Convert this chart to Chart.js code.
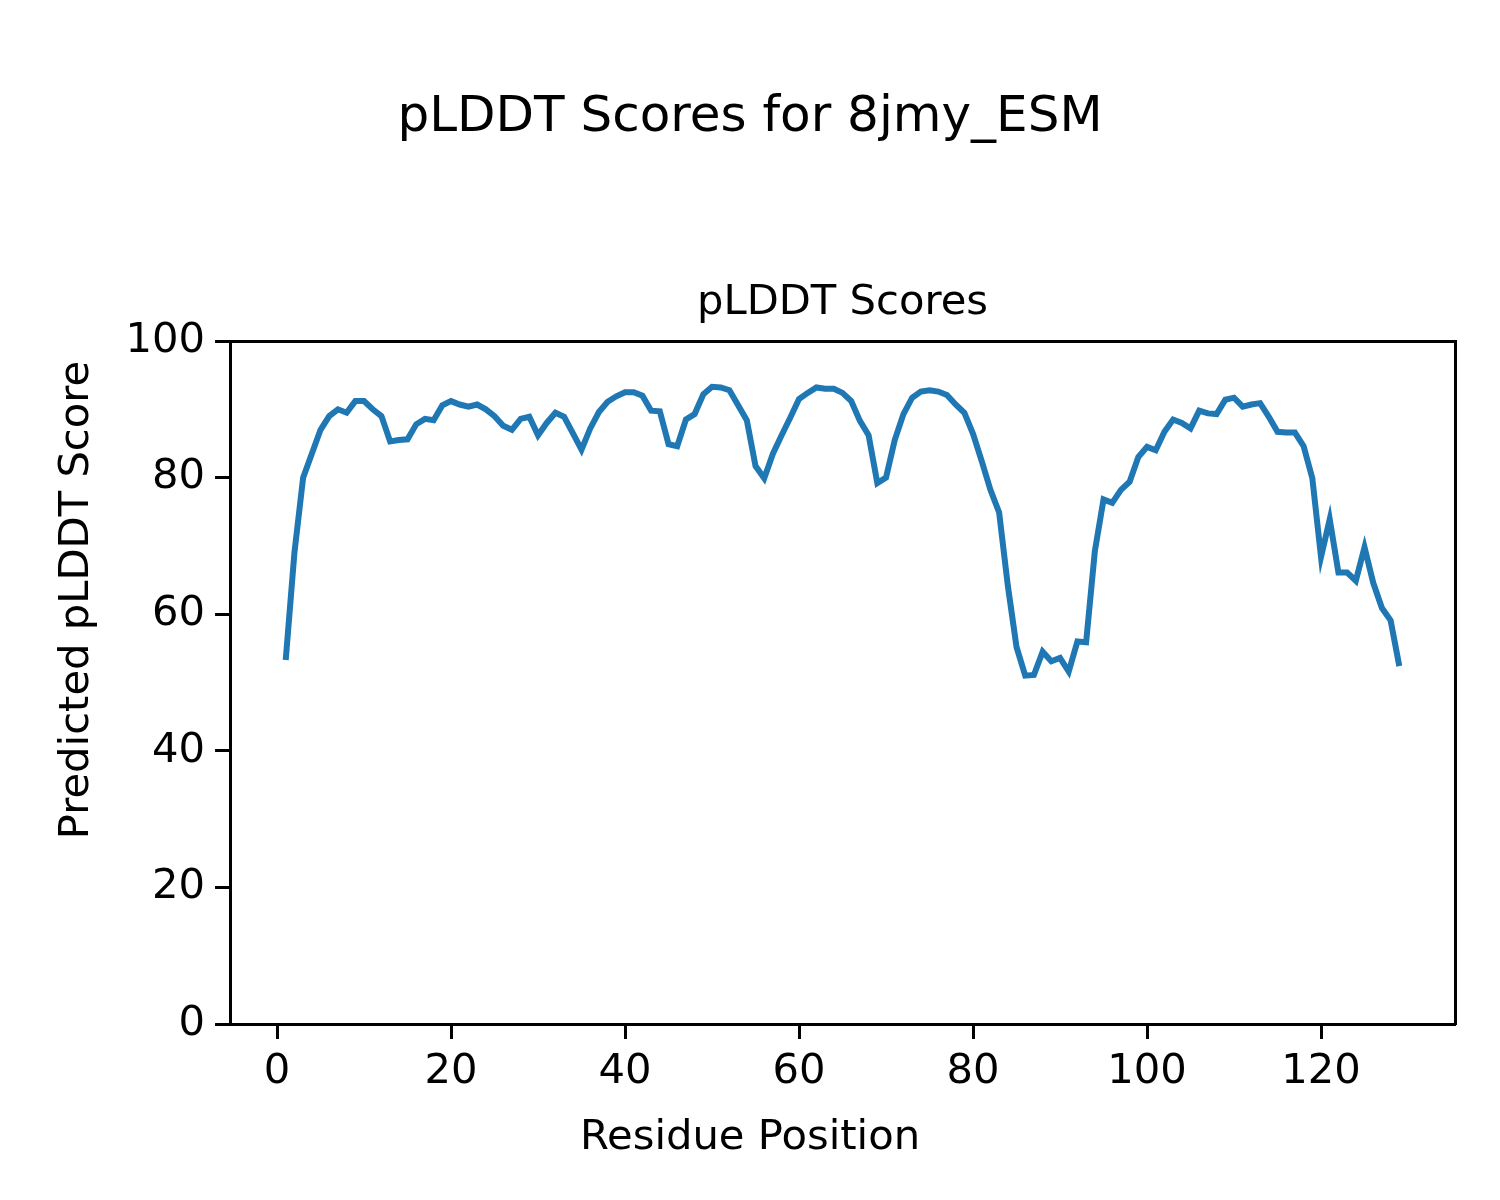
<!DOCTYPE html>
<html>
<head>
<meta charset="utf-8">
<script src="https://cdn.jsdelivr.net/npm/chart.js@4"></script>
<style>
  html, body { margin: 0; padding: 0; background: #fff; }
  canvas { display: block; }
</style>
</head>
<body>
<canvas id="chart" width="1500" height="1200"></canvas>
<script>
// residue positions 1..129 and the predicted scores
const residues = [
  1, 2, 3, 4, 5, 6, 7, 8, 9, 10, 11, 12, 13, 14, 15, 16, 17, 18, 19, 20,
  21, 22, 23, 24, 25, 26, 27, 28, 29, 30, 31, 32, 33, 34, 35, 36, 37, 38, 39, 40,
  41, 42, 43, 44, 45, 46, 47, 48, 49, 50, 51, 52, 53, 54, 55, 56, 57, 58, 59, 60,
  61, 62, 63, 64, 65, 66, 67, 68, 69, 70, 71, 72, 73, 74, 75, 76, 77, 78, 79, 80,
  81, 82, 83, 84, 85, 86, 87, 88, 89, 90, 91, 92, 93, 94, 95, 96, 97, 98, 99, 100,
  101, 102, 103, 104, 105, 106, 107, 108, 109, 110, 111, 112, 113, 114, 115, 116, 117, 118, 119, 120,
  121, 122, 123, 124, 125, 126, 127, 128, 129
]
const plddt = [
  53.3, 69.0, 80.0, 83.5, 87.0, 89.0, 90.0, 89.5, 91.2, 91.2,
  90.0, 89.0, 85.3, 85.5, 85.6, 87.8, 88.6, 88.4, 90.6, 91.2,
  90.7, 90.4, 90.7, 90.0, 89.0, 87.6, 87.0, 88.6, 88.9, 86.2,
  88.0, 89.5, 88.9, 86.5, 84.1, 87.2, 89.6, 91.1, 91.9, 92.5,
  92.5, 92.0, 89.8, 89.7, 84.9, 84.6, 88.5, 89.3, 92.2, 93.3,
  93.2, 92.8, 90.6, 88.4, 81.7, 79.9, 83.5, 86.2, 88.8, 91.5,
  92.4, 93.2, 93.0, 93.0, 92.4, 91.2, 88.3, 86.2, 79.2, 80.0,
  85.5, 89.3, 91.7, 92.6, 92.8, 92.6, 92.1, 90.7, 89.5, 86.4,
  82.4, 78.2, 74.9, 64.2, 55.2, 51.0, 51.1, 54.5, 53.1, 53.6,
  51.6, 56.0, 55.9, 69.2, 76.8, 76.3, 78.2, 79.4, 83.0, 84.5,
  84.0, 86.7, 88.5, 88.0, 87.2, 89.8, 89.4, 89.3, 91.4, 91.7,
  90.4, 90.7, 90.9, 88.9, 86.7, 86.6, 86.6, 84.6, 79.9, 68.4,
  73.9, 66.1, 66.1, 64.9, 69.8, 64.6, 60.9, 59.1, 52.4
]
const xTicks = [0, 20, 40, 60, 80, 100, 120]
const yTicks = [0, 20, 40, 60, 80, 100]

const font = 'DejaVu Sans'
const black = '#000000'
const labelFont = {family: font, size: 41.7, weight: 'normal', lineHeight: 1.2}

// figure-level x label, centred on the whole figure rather than the axes
const supXLabel = {
  id: 'supXLabel',
  afterDraw(chart) {
    const ctx = chart.ctx
    ctx.save()
    ctx.fillStyle = black
    ctx.font = `41.7px "${font}"`
    ctx.textAlign = 'center'
    ctx.textBaseline = 'middle'
    ctx.fillText('Residue Position', chart.width / 2, 1138)
    ctx.restore()
  }
}

const spine = {display: true, color: black, width: 3}
const ticked = {drawOnChartArea: false, drawTicks: true, tickLength: 15, tickWidth: 3, tickColor: black}
const bare = {drawOnChartArea: false, drawTicks: false}

new Chart(document.getElementById('chart'), {
  type: 'line',
  data: {
    datasets: [{
      data: residues.map((r, i) => ({x: r, y: plddt[i]})),
      borderColor: '#1f77b4',
      borderWidth: 6,
      pointRadius: 0,
      tension: 0,
      fill: false
    }]
  },
  options: {
    responsive: false,
    animation: false,
    layout: {padding: 0},
    plugins: {
      legend: {display: false},
      tooltip: {enabled: false},
      title: {
        display: true,
        text: 'pLDDT Scores for 8jmy_ESM',
        color: black,
        font: {family: font, size: 50, weight: 'normal', lineHeight: 1.2},
        padding: {top: 88, bottom: 0}
      },
      // used as the figure-level y label
      subtitle: {
        display: true,
        position: 'left',
        text: 'Predicted pLDDT Score',
        color: black,
        font: labelFont,
        padding: {top: 52, bottom: 0}
      }
    },
    scales: {
      x: {
        type: 'linear',
        min: -5.4,
        max: 135.4,
        grid: ticked,
        border: spine,
        afterBuildTicks: s => { s.ticks = xTicks.map(v => ({value: v})) },
        afterFit: s => { s.height = 176 },
        ticks: {color: black, padding: 8, maxRotation: 0, font: {family: font, size: 41.7}}
      },
      // top spine, carrying the axes title
      xTop: {
        type: 'linear',
        position: 'top',
        min: -5.4,
        max: 135.4,
        grid: bare,
        border: spine,
        ticks: {display: false},
        afterFit: s => { s.height = 193 },
        title: {
          display: true,
          text: 'pLDDT Scores',
          color: black,
          font: labelFont,
          padding: {top: 130, bottom: 0}
        }
      },
      y: {
        type: 'linear',
        min: 0,
        max: 100,
        grid: ticked,
        border: spine,
        afterBuildTicks: s => { s.ticks = yTicks.map(v => ({value: v})) },
        afterFit: s => { s.width = 128 },
        ticks: {color: black, padding: 10, font: {family: font, size: 41.7}}
      },
      // right spine
      yRight: {
        type: 'linear',
        position: 'right',
        min: 0,
        max: 100,
        grid: bare,
        border: spine,
        ticks: {display: false},
        afterFit: s => { s.width = 45 }
      }
    }
  },
  plugins: [supXLabel]
})
</script>
</body>
</html>
